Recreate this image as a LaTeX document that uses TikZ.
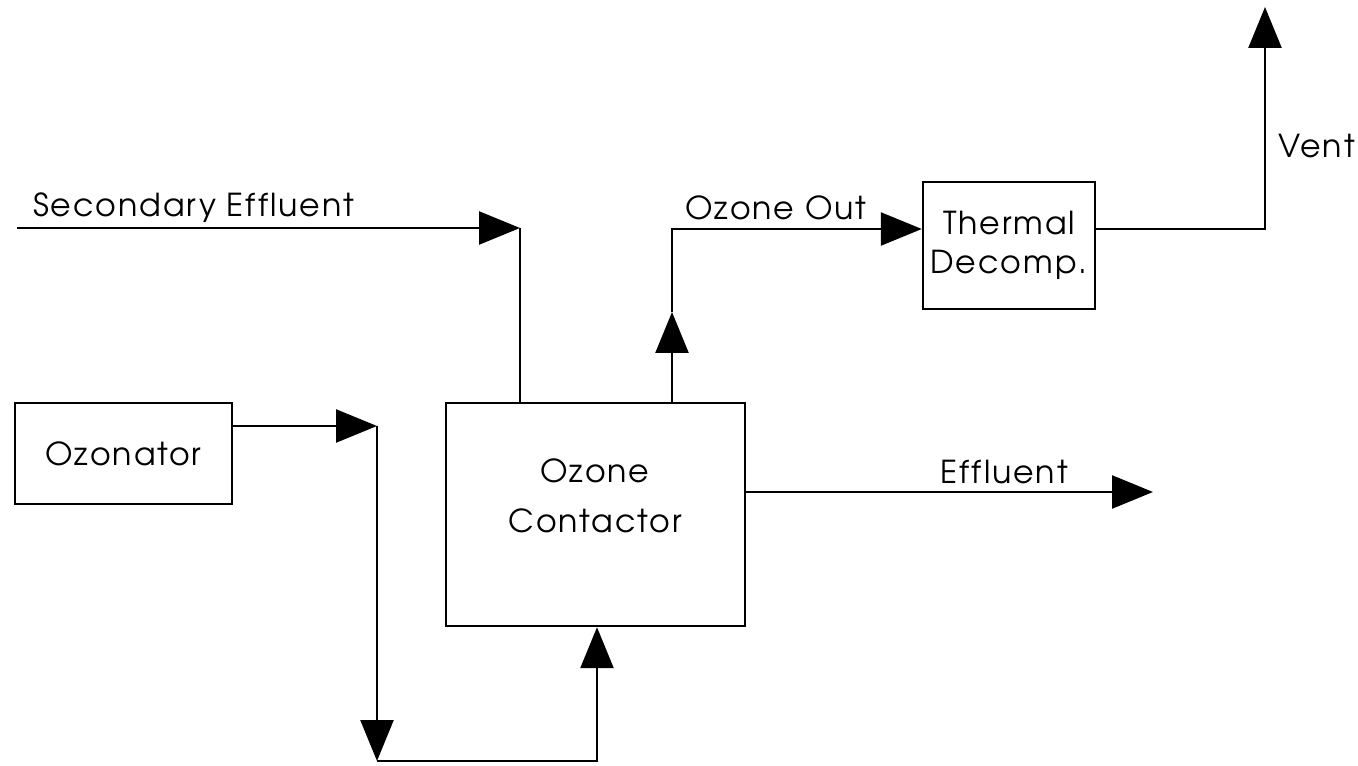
\documentclass[tikz,border=0pt]{standalone}
\usepackage{fontspec}
\setmainfont[LetterSpace=6, Ligatures=NoCommon]{TeX Gyre Adventor}
\usetikzlibrary{positioning,arrows.meta}

\begin{document}
\begin{tikzpicture}[x=0.02cm, y=-0.02cm,
        unit/.style={rectangle, draw=black, line width=1.4pt, inner sep=0pt, font=\fontsize{18}{20}\selectfont},
        tag/.style={font=\fontsize{18}{20}\selectfont, inner sep=0pt},
        flow/.style={-{Triangle[length=0.82cm, width=0.66cm]}, line width=1.4pt},
        pipe/.style={line width=1.4pt}
    ]
    \useasboundingbox (0,0) rectangle (1358,766);

    % Units
    \node[unit, minimum width=4.34cm, minimum height=2.02cm] (ozonator) at (123.5,453.5) {Ozonator};
    \node[unit, minimum width=5.98cm, minimum height=4.46cm] (contactor) at (595.5,514.5) {};
    \node[tag, align=center, font=\fontsize{18}{28.3}\selectfont] (contactortext) at (595,496) {Ozone\\Contactor};
    \node[unit, align=center, font=\fontsize{18}{22.2}\selectfont, minimum width=3.44cm, minimum height=2.54cm] (thermal) at (1009,245.5) {Thermal\\Decomp.};

    % Bends
    \coordinate (secin) at (17,228);
    \coordinate (secbend) at (520,228);
    \coordinate (o2bend) at (377,426);
    \coordinate (o2low) at (377,761);
    \coordinate (o2rise) at (597,761);
    \coordinate (o3tip) at (672,312);
    \coordinate (o3bend) at (672,229);
    \coordinate (ventbend) at (1265,229);
    \coordinate (ventout) at (1265,7);
    \coordinate (effout) at (1153,492);

    % Secondary effluent
    \draw[flow] (secin) -- (secbend);
    \draw[pipe] (secbend) -- (secbend |- contactor.north);

    % Ozone feed
    \draw[flow] (ozonator.east |- o2bend) -- (o2bend);
    \draw[flow] (o2bend) -- (o2low);
    \draw[flow] (o2low) -- (o2rise) -- (o2rise |- contactor.south);

    % Off-gas
    \draw[flow] (o3tip |- contactor.north) -- (o3tip);
    \draw[flow] (o3tip) -- (o3bend) -- (thermal.west |- o3bend);
    \draw[flow] (thermal.east |- ventbend) -- (ventbend) -- (ventout);

    % Effluent
    \draw[flow] (contactor.east |- effout) -- (effout);

    % Labels
    \node[tag, anchor=base west] (seclabel) at (33,217) {Secondary Effluent};
    \node[tag, anchor=base west] (outlabel) at (685,220) {Ozone Out};
    \node[tag, anchor=base west] (ventlabel) at (1278,158) {Vent};
    \node[tag, anchor=base west] (efflabel) at (940,483) {Effluent};
\end{tikzpicture}
\end{document}
